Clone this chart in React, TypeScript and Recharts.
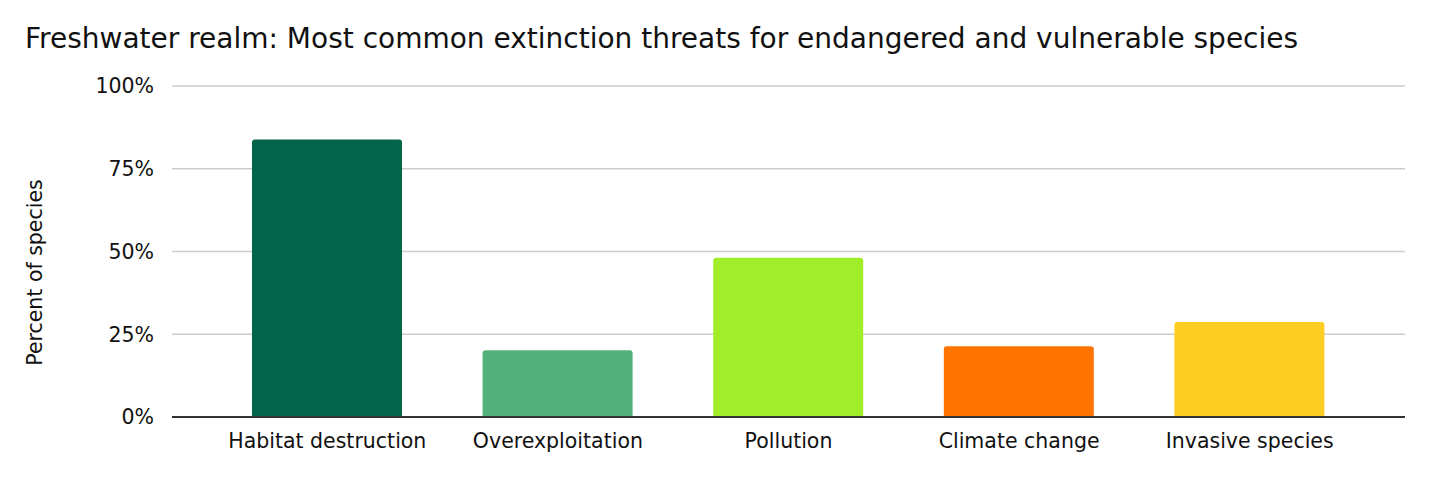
import { BarChart, Bar, XAxis, YAxis, CartesianGrid, Cell } from 'recharts'

const FONT = "'DejaVu Sans', sans-serif"

const threats = ['Habitat destruction', 'Overexploitation', 'Pollution', 'Climate change', 'Invasive species']
const percentOfSpecies = [83.8, 20.2, 48.1, 21.4, 28.7]
const barColors = ['#02654a', '#51b279', '#a0ee2a', '#ff7400', '#fdcd24']
const yTicks = [0, 25, 50, 75, 100]

const data = threats.map((name, i) => ({ name, value: percentOfSpecies[i] }))

// rotated y axis title, placed left of the tick labels (sits a bit below the plot centre, as in the source)
type LabelProps = { viewBox?: { x?: number; y?: number; width?: number; height?: number } }
function yAxisTitle(props: LabelProps) {
  const vb = props.viewBox ?? {}
  const cx = Number(vb.x ?? 0) - 37
  const cy = Number(vb.y ?? 0) + Number(vb.height ?? 0) / 2 + 21
  return (
    <text x={cx} y={cy} transform={`rotate(-90 ${cx} ${cy})`} textAnchor="middle" dominantBaseline="central"
      fill="#111" fontSize={20.5} fontFamily={FONT}>
      Percent of species
    </text>
  )
}

export default function App() {
  return (
    <div style={{ position: 'absolute', left: 0, top: 0, width: 1444, height: 486, background: '#fff', fontFamily: FONT }}>
      <div style={{ position: 'absolute', left: 25, top: 21, fontSize: 28, color: '#111', whiteSpace: 'nowrap', lineHeight: '36px' }}>
        Freshwater realm: Most common extinction threats for endangered and vulnerable species
      </div>
      <BarChart width={1444} height={486} data={data} barSize={150}
        margin={{ top: 86, right: 39, bottom: 0, left: 72 }}>
        <CartesianGrid vertical={false} stroke="#cccccc" strokeWidth={1.5} />
        <XAxis
          dataKey="name"
          padding={{ left: 40, right: 40 }}
          axisLine={{ stroke: '#333', strokeWidth: 2 }}
          tickLine={false}
          tick={{ fill: '#111', fontSize: 20.5, fontFamily: FONT }}
          tickMargin={10}
          height={69}
          interval={0}
        />
        <YAxis
          domain={[0, 100]}
          ticks={yTicks}
          tickFormatter={(v: number) => `${v}%`}
          axisLine={false}
          tickLine={false}
          tick={{ fill: '#111', fontSize: 20.5, fontFamily: FONT }}
          tickMargin={12}
          width={100}
          label={yAxisTitle}
        />
        <Bar dataKey="value" radius={[3, 3, 0, 0]} isAnimationActive={false}>
          {data.map((d, i) => <Cell key={d.name} fill={barColors[i]} />)}
        </Bar>
      </BarChart>
    </div>
  )
}
